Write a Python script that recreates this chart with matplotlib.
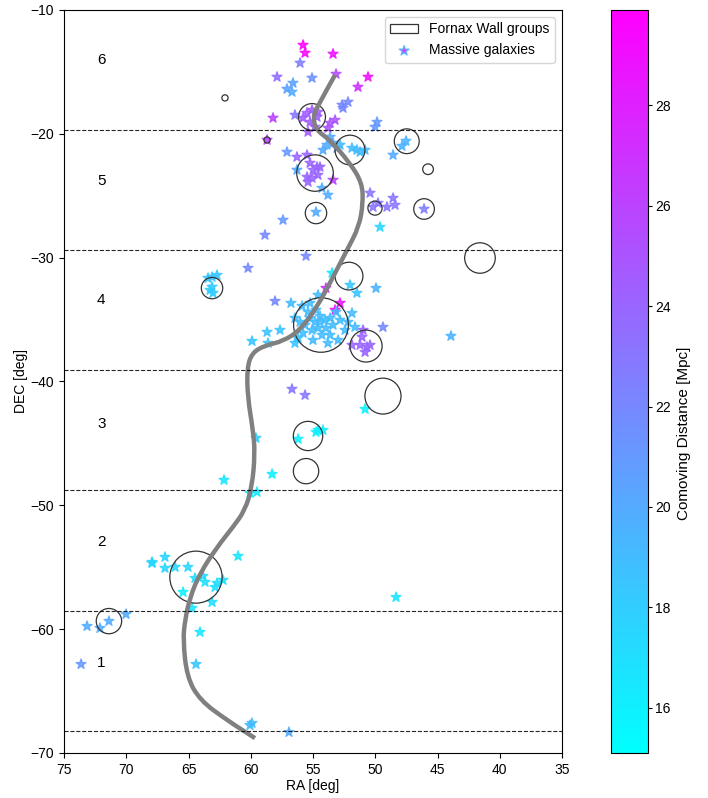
import numpy as np
import matplotlib
matplotlib.use('Agg')
import matplotlib.pyplot as plt
from matplotlib.patches import Circle, PathPatch
from matplotlib.path import Path

plt.rcParams['font.family'] = ['Liberation Sans', 'DejaVu Sans']

# Массивные галактики: RA, DEC, сопутствующее расстояние
star_ra = [55.80, 55.64, 53.39, 56.04, 57.89, 55.08, 53.15, 50.58, 51.39, 56.61,
           57.09, 56.69, 58.21, 58.69, 52.59, 52.19, 52.67, 49.86, 50.02,
           55.48, 55.08, 54.68, 55.24, 55.80, 54.84, 55.40, 54.60, 56.45, 53.63,
           53.23, 53.80, 53.63, 53.39, 53.88, 53.07, 54.20, 52.83, 51.87, 51.47,
           51.22, 50.82, 48.57, 57.09, 56.29, 55.48, 56.29,
           55.24, 55.00, 54.60, 55.08, 54.68, 55.48, 54.44, 55.40, 53.39, 53.80,
           54.28, 50.42, 50.18, 49.78, 49.06, 48.57, 48.41, 49.62, 54.76, 57.41,
           46.08, 47.53, 47.85,
           58.86, 55.56, 60.22, 63.11, 62.71, 63.43, 63.27, 63.03, 63.11, 53.47,
           52.03, 51.47, 49.94, 53.96, 52.83, 53.23, 58.05, 56.77, 55.88, 55.24,
           54.60, 51.87, 49.38, 51.63,
           55.24, 54.84, 54.44, 54.04, 53.63, 54.60, 53.96, 53.39, 55.08, 54.28,
           53.63, 55.64, 56.04, 52.83, 53.15, 54.76, 55.40, 52.43, 52.99, 55.00,
           55.80, 53.80, 56.45, 52.19, 54.44,
           58.69, 57.65, 59.90, 58.61, 56.45, 56.20,
           51.06, 50.66, 51.22, 50.42, 50.82, 51.87, 50.98,
           56.69, 55.64, 50.82, 54.60, 59.58, 56.20, 54.76, 54.20, 58.29, 60.06,
           59.50, 62.15, 61.02, 67.93, 66.89, 67.93, 66.89, 66.08, 65.04, 64.48,
           63.84, 63.67, 62.71, 62.23, 62.87, 65.44, 63.11, 64.72, 71.39, 70.02,
           73.15, 72.11, 73.63, 64.08, 64.40, 60.06, 59.90, 56.93, 48.33, 43.92]
star_dec = [-12.83, -13.47, -13.55, -14.28, -15.41, -15.49, -15.17, -15.41, -16.22, -15.90,
            -16.38, -16.62, -18.72, -20.50, -17.92, -17.43, -17.67, -19.05, -19.45,
            -18.32, -18.08, -18.64, -19.05, -18.72, -19.45, -19.85, -18.24, -18.48, -19.13,
            -18.89, -19.53, -20.26, -20.74, -20.90, -21.15, -21.31, -20.90, -21.15, -21.31,
            -21.47, -21.31, -21.71, -21.47, -21.87, -21.71, -22.92,
            -22.36, -22.92, -23.33, -23.57, -22.68, -23.49, -22.68, -23.89, -23.73, -24.94,
            -24.38, -24.78, -25.91, -25.59, -25.91, -25.19, -25.75, -27.53, -26.32, -26.96,
            -26.07, -20.58, -20.99,
            -28.17, -29.87, -30.84, -31.57, -31.41, -31.65, -32.62, -32.86, -32.37, -31.24,
            -32.21, -32.86, -32.46, -32.46, -33.67, -34.23, -33.51, -33.67, -33.91, -33.67,
            -33.02, -34.48, -35.61, -35.61,
            -34.88, -35.20, -34.72, -35.04, -34.88, -35.69, -35.69, -35.44, -35.85, -36.25,
            -36.25, -35.44, -35.20, -35.04, -34.39, -34.23, -34.39, -35.85, -36.66, -36.66,
            -36.09, -36.90, -34.88, -35.20, -35.20,
            -36.01, -35.85, -36.74, -36.90, -36.90, -36.49,
            -36.41, -37.22, -37.06, -37.06, -37.63, -37.06, -35.85,
            -40.61, -41.10, -42.23, -43.93, -44.57, -44.65, -44.09, -43.93, -47.48, -49.01,
            -48.93, -47.96, -54.10, -54.59, -54.18, -54.67, -55.07, -54.99, -54.99, -55.88,
            -55.72, -56.20, -56.28, -56.04, -56.61, -57.01, -57.82, -58.30, -59.35, -58.79,
            -59.76, -59.92, -62.83, -60.24, -62.83, -67.76, -67.59, -68.32, -57.42, -36.33]
star_dist = [29.6, 29.6, 29.0, 22.5, 23.5, 21.5, 25.5, 29.0, 27.0, 20.5,
             20.5, 20.0, 26.0, 26.0, 22.0, 22.0, 22.0, 21.0, 21.0,
             24.5, 24.5, 24.5, 24.5, 24.5, 24.5, 24.5, 24.5, 23.0, 25.0,
             25.0, 25.0, 20.0, 20.0, 20.0, 20.0, 20.0, 19.0, 19.0, 19.0,
             19.0, 19.0, 20.0, 21.0, 24.0, 24.0, 20.0,
             24.0, 24.0, 24.0, 24.0, 24.0, 24.0, 24.0, 24.0, 26.0, 20.0,
             20.0, 23.0, 23.0, 23.0, 23.0, 23.0, 23.0, 17.5, 20.0, 21.0,
             22.5, 19.5, 19.5,
             22.0, 22.0, 22.0, 18.5, 18.5, 18.5, 18.0, 18.0, 18.0, 16.5,
             18.5, 18.5, 19.5, 27.0, 29.0, 29.0, 22.0, 19.0, 19.0, 19.0,
             19.0, 19.0, 22.0, 19.0,
             19.0, 19.0, 19.0, 19.0, 19.0, 19.0, 19.0, 19.0, 19.0, 19.0,
             19.0, 19.0, 19.0, 19.0, 19.0, 19.0, 19.0, 19.0, 19.0, 19.0,
             19.0, 19.0, 19.0, 19.0, 19.0,
             18.5, 18.5, 18.5, 18.5, 18.5, 18.5,
             24.0, 24.0, 24.0, 24.0, 24.0, 24.0, 24.0,
             23.0, 23.0, 16.0, 16.0, 18.0, 16.0, 16.0, 16.0, 16.0, 16.5,
             16.5, 16.5, 16.5, 17.5, 17.5, 17.5, 17.5, 17.5, 17.5, 17.0,
             17.0, 17.0, 17.0, 17.0, 17.0, 16.0, 17.0, 16.5, 20.0, 20.0,
             20.0, 20.0, 21.0, 16.5, 18.5, 19.0, 19.0, 20.0, 16.5, 19.5]

# Группы Fornax Wall: центр и радиус [deg]
group_ra = [62.07, 55.08, 52.03, 54.84, 54.76, 50.02, 47.47, 45.76, 46.08, 41.59,
            63.11, 52.11, 54.36, 50.74, 49.38, 55.40, 55.56, 64.40, 71.39, 58.69]
group_dec = [-17.10, -18.64, -21.31, -23.17, -26.40, -26.00, -20.60, -22.86, -26.07, -30.03,
             -32.46, -31.49, -35.44, -37.14, -41.18, -44.40, -47.24, -55.80, -59.35, -20.50]
group_r = [0.25, 1.08, 1.20, 1.47, 0.86, 0.57, 1.00, 0.43, 0.83, 1.23,
           0.86, 1.12, 2.20, 1.29, 1.45, 1.18, 1.02, 2.10, 1.02, 0.25]

# Линия стены (опорные точки)
curve_ra = [53.23, 54.68, 55.00, 54.76, 53.63, 52.03, 51.06, 50.98, 51.30, 52.27,
            53.39, 54.68, 56.04, 57.40, 58.90, 59.90, 60.30, 60.25, 59.82, 59.66,
            59.90, 60.46, 61.43, 62.71, 64.08, 64.88, 65.28, 65.44, 65.12, 64.08,
            61.91, 59.66]
curve_dec = [-15.25, -17.84, -18.64, -19.69, -20.50, -22.36, -23.97, -25.59, -27.50, -29.39,
             -31.57, -34.00, -35.85, -36.75, -37.10, -37.70, -38.90, -41.26, -43.93, -45.78,
             -48.53, -50.39, -51.76, -53.38, -55.48, -57.42, -59.27, -60.89, -63.88, -65.74,
             -67.35, -68.80]

# Границы бинов и подписи
bin_edges = [-68.2, -58.5, -48.8, -39.1, -29.4, -19.7]
bin_labels = ['1', '2', '3', '4', '5', '6']
label_dec = [-62.7, -53.0, -43.4, -33.4, -23.8, -14.0]
label_ra = 72.0

fig = plt.figure(figsize=(7.08, 7.98), dpi=100)
ax = fig.add_axes([0.0904, 0.0564, 0.7034, 0.9311])
cax = fig.add_axes([0.863, 0.0564, 0.0523, 0.9311])

sc = ax.scatter(star_ra, star_dec, c=star_dist, cmap='cool', vmin=15.1, vmax=29.9,
                marker='*', s=55, alpha=0.85, zorder=2)

circ_handle = None
for i in range(len(group_ra)):
    circ = Circle((group_ra[i], group_dec[i]), group_r[i], fill=False,
                  edgecolor='#333333', lw=0.9, zorder=3)
    ax.add_patch(circ)
    if circ_handle is None:
        circ_handle = circ

# сглаженная линия через опорные точки (квадратичные кривые Безье)
pts = np.column_stack([curve_ra, curve_dec])
verts = [pts[0]]
codes = [Path.MOVETO]
for i in range(1, len(pts) - 1):
    verts += [pts[i], (pts[i] + pts[i + 1]) / 2]
    codes += [Path.CURVE3, Path.CURVE3]
verts.append(pts[-1])
codes.append(Path.LINETO)
ax.add_patch(PathPatch(Path(verts, codes), fill=False, edgecolor='grey', lw=3.2,
                       capstyle='butt', zorder=4))

for y in bin_edges:
    ax.axhline(y, color='k', ls='--', lw=0.8, alpha=0.85, zorder=4)

for lab, y in zip(bin_labels, label_dec):
    ax.text(label_ra, y, lab, fontsize=11, ha='center', va='center')

ax.set_xlim(75, 35)
ax.set_ylim(-70, -10)
ax.set_xlabel('RA [deg]', fontsize=10, labelpad=2)
ax.set_ylabel('DEC [deg]', fontsize=10, labelpad=2)
ax.tick_params(labelsize=10)

leg = ax.legend([circ_handle, sc], ['Fornax Wall groups', 'Massive galaxies'],
                loc='upper right', fontsize=10)
leg.legend_handles[1].set_facecolor(plt.cm.cool((19.0 - 15.1) / (29.9 - 15.1)))
leg.legend_handles[1].set_edgecolor(plt.cm.cool((19.0 - 15.1) / (29.9 - 15.1)))

cb = fig.colorbar(sc, cax=cax)
cb.solids.set_alpha(1)
cb.set_ticks([16, 18, 20, 22, 24, 26, 28])
cb.ax.tick_params(labelsize=10, length=3, pad=2)
cb.set_label('Comoving Distance [Mpc]', fontsize=11)
cb.ax.yaxis.set_label_coords(1.78, 0.43)

fig.savefig('out.png', dpi=100)
